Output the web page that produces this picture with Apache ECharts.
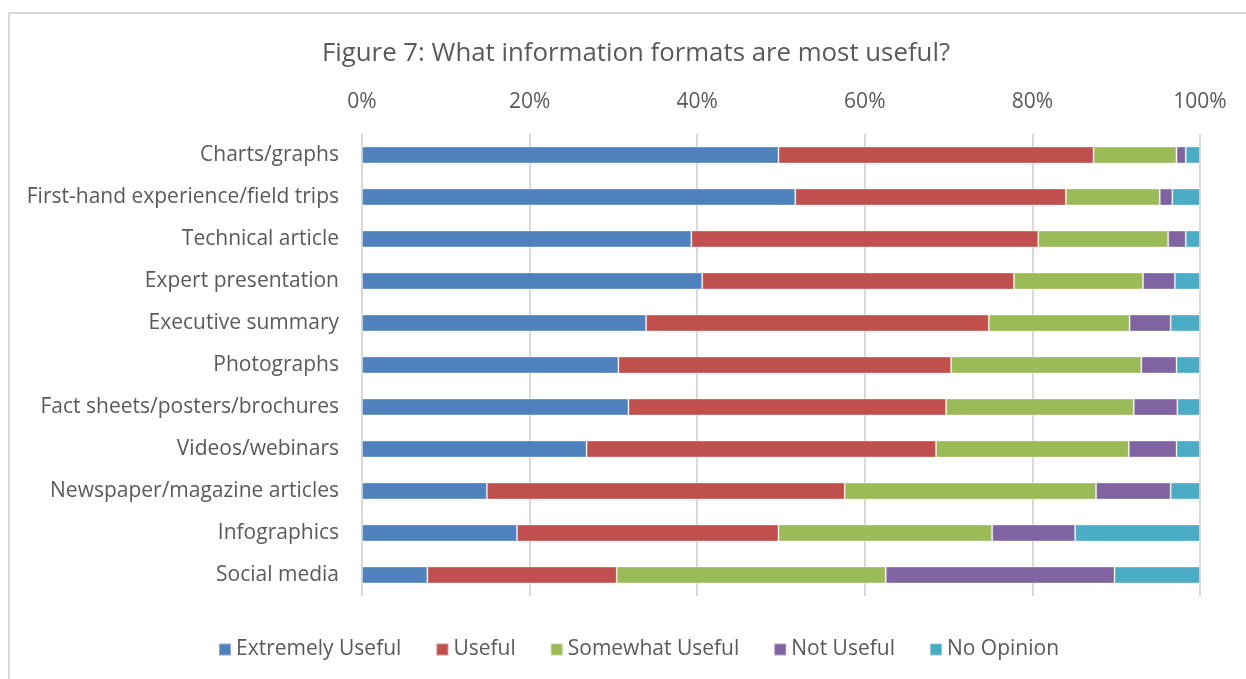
<!DOCTYPE html>
<html>
<head>
<meta charset="utf-8">
<title>Figure 7: What information formats are most useful?</title>
<script src="https://cdn.jsdelivr.net/npm/echarts@6/dist/echarts.min.js"></script>
<style>
  html, body { margin: 0; padding: 0; background: #ffffff; }
  #chart { width: 1246px; height: 679px; }
</style>
</head>
<body>
<div id="chart"></div>
<script>
// Information formats, listed top to bottom
const categories = [
  'Charts/graphs',
  'First-hand experience/field trips',
  'Technical article',
  'Expert presentation',
  'Executive summary',
  'Photographs',
  'Fact sheets/posters/brochures',
  'Videos/webinars',
  'Newspaper/magazine articles',
  'Infographics',
  'Social media'
];

// Share of respondents (%) for each rating, per format
const extremelyUseful = [49.7, 51.7, 39.3, 40.6, 33.9, 30.6, 31.8, 26.8, 14.9, 18.5, 7.8];
const useful          = [37.6, 32.3, 41.4, 37.2, 40.9, 39.7, 37.9, 41.7, 42.7, 31.2, 22.6];
const somewhatUseful  = [ 9.9, 11.2, 15.5, 15.4, 16.8, 22.7, 22.4, 23.0, 30.0, 25.5, 32.1];
const notUseful       = [ 1.1,  1.5,  2.1,  3.8,  4.9,  4.2,  5.2,  5.7,  8.9,  9.9, 27.3];
const noOpinion       = [ 1.7,  3.3,  1.7,  3.0,  3.5,  2.8,  2.7,  2.8,  3.5, 14.9, 10.2];

const seriesNames = ['Extremely Useful', 'Useful', 'Somewhat Useful', 'Not Useful', 'No Opinion'];
const seriesData = [extremelyUseful, useful, somewhatUseful, notUseful, noOpinion];
const seriesColors = ['#4F81BD', '#C0504D', '#9BBB59', '#8064A2', '#4BACC6'];

const FONT = '"Open Sans", "Liberation Sans", sans-serif';
const TEXT = '#595959';

const chart = echarts.init(document.getElementById('chart'), null, { renderer: 'canvas' });

chart.setOption({
  animation: false,
  backgroundColor: '#ffffff',
  textStyle: { fontFamily: FONT, color: TEXT },
  graphic: [{
    type: 'rect',
    z: -10,
    shape: { x: 9, y: 13, width: 1300, height: 800 },
    style: { fill: 'none', stroke: '#d9d9d9', lineWidth: 2 }
  }],
  title: {
    text: 'Figure 7: What information formats are most useful?',
    left: 631,
    top: 36,
    textAlign: 'center',
    textStyle: { fontFamily: FONT, fontSize: 25.8, fontWeight: 'normal', color: TEXT }
  },
  legend: {
    data: seriesNames,
    left: 213,
    top: 634,
    itemWidth: 12,
    itemHeight: 12,
    itemGap: 34,
    icon: 'rect',
    textStyle: { fontFamily: FONT, fontSize: 21, color: TEXT, padding: [0, 0, 0, 0] }
  },
  grid: { left: 362, right: 46, top: 134, bottom: 83, containLabel: false },
  xAxis: {
    type: 'value',
    position: 'top',
    min: 0,
    max: 100,
    interval: 20,
    axisLine: { show: false },
    axisTick: { show: false },
    axisLabel: {
      formatter: '{value}%',
      margin: 21,
      fontFamily: FONT,
      fontSize: 21,
      color: TEXT
    },
    splitLine: { show: true, lineStyle: { color: '#d9d9d9', width: 2 } }
  },
  yAxis: {
    type: 'category',
    data: categories,
    inverse: true,
    axisLine: { show: false },
    axisTick: { show: false },
    axisLabel: { margin: 23, fontFamily: FONT, fontSize: 21, color: TEXT }
  },
  series: seriesNames.map((name, i) => ({
    name: name,
    type: 'bar',
    stack: 'total',
    barWidth: 17,
    data: seriesData[i],
    itemStyle: {
      color: seriesColors[i],
      borderColor: 'rgba(255,255,255,0.35)',
      borderWidth: 1
    }
  }))
});
</script>
</body>
</html>
